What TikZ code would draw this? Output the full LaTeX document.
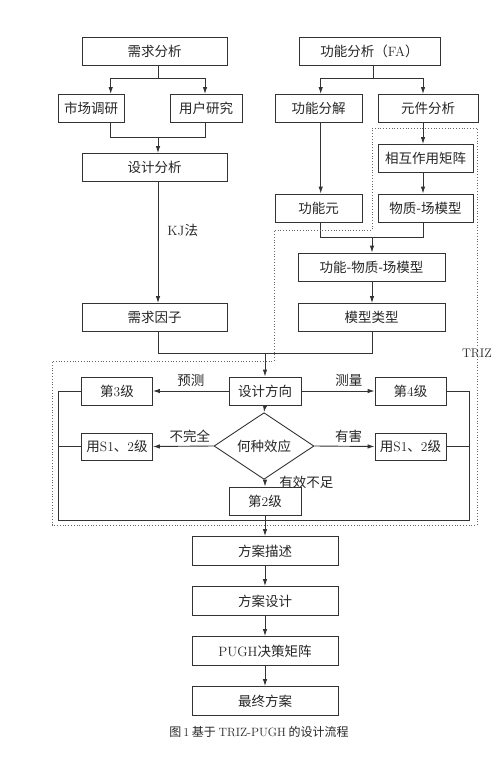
\documentclass[tikz,border=0pt]{standalone}
\usepackage{fontspec}
\newfontfamily\cjk{Noto Sans CJK SC}
\usetikzlibrary{arrows.meta,shapes.geometric}
\newcommand{\lm}[1]{{\rmfamily #1}}
\begin{document}
\begin{tikzpicture}[x=1pt,y=-1pt,
  every node/.style={text=black!85},
  box/.style={draw=black!80,line width=0.9pt,rectangle,inner sep=0pt,minimum height=28pt,font=\cjk\fontsize{13.5}{14}\selectfont},
  dia/.style={draw=black!80,line width=0.9pt,diamond,inner sep=0pt,minimum width=100pt,minimum height=38pt,font=\cjk\fontsize{13.5}{14}\selectfont},
  lab/.style={font=\cjk\fontsize{13.5}{14}\selectfont,inner sep=1pt},
  ln/.style={draw=black!80,line width=0.9pt},
  arr/.style={ln,-{Latex[length=7pt,width=4.5pt]}},
  dots/.style={draw=black!60,line width=0.8pt,dotted}]
\useasboundingbox (0,0) rectangle (500,760);
\fill[white] (0,0) rectangle (500,760);

% upper left
\node[box,minimum width=145pt] (xq) at (154.5,51) {需求分析};
\node[box,minimum width=66pt] (sc) at (91,108.5) {市场调研};
\node[box,minimum width=72pt] (yh) at (206,108.5) {用户研究};
\node[box,minimum width=145pt] (sj) at (154.5,167.5) {设计分析};
\node[box,minimum width=145pt] (xy) at (154.5,317.5) {需求因子};

% upper right
\node[box,minimum width=141pt] (fa) at (369.5,51) {功能分析（\lm{FA}）};
\node[box,minimum width=87pt] (fj) at (318.5,108.5) {功能分解};
\node[box,minimum width=100pt] (yj) at (428,108.5) {元件分析};
\node[box,minimum width=95pt] (jz) at (425.5,158.5) {相互作用矩阵};
\node[box,minimum width=87pt] (gny) at (318.5,208) {功能元};
\node[box,minimum width=95pt] (wz) at (425.5,208) {物质-场模型};
\node[box,minimum width=147pt] (gwz) at (371.5,267) {功能-物质-场模型};
\node[box,minimum width=147pt] (mx) at (371.5,317.5) {模型类型};

% TRIZ part
\node[box,minimum width=72pt] (fx) at (265,391) {设计方向};
\node[box,minimum width=71pt] (l3) at (117,391) {第\lm{3}级};
\node[box,minimum width=71pt] (l4) at (410.5,391) {第\lm{4}级};
\node[dia] (dm) at (264,446) {何种效应};
\node[box,minimum width=71pt,minimum height=27pt] (s1l) at (117,446.5) {用\lm{S1}、\lm{2}级};
\node[box,minimum width=71pt,minimum height=27pt] (s1r) at (410.5,446.5) {用\lm{S1}、\lm{2}级};
\node[box,minimum width=72pt] (l2) at (265,501) {第\lm{2}级};

% bottom chain
\node[box,minimum width=146pt,minimum height=29pt] (fams) at (265,551) {方案描述};
\node[box,minimum width=146pt,minimum height=29pt] (fasj) at (265,601) {方案设计};
\node[box,minimum width=146pt,minimum height=29pt] (pugh) at (265,651) {\lm{PUGH}决策矩阵};
\node[box,minimum width=146pt,minimum height=29pt] (zz) at (265,701) {最终方案};

\node[font=\cjk\fontsize{12}{12}\selectfont] (cap) at (259,732) {图\,\lm{1} 基于 \lm{TRIZ-PUGH} 的设计流程};

% coordinates
\coordinate (b1) at (158,78);
\coordinate (a1) at (110.7,94);
\coordinate (a2) at (205,94);
\coordinate (j1) at (158,137);
\coordinate (b2) at (373,78);
\coordinate (a3) at (320.7,94);
\coordinate (a4) at (423,94);
\coordinate (j2) at (372,237);
\coordinate (j3) at (265,353);
\coordinate (fl) at (58,520);
\coordinate (fr) at (469,520);
\coordinate (fm) at (265,520);

% left branch
\draw[ln] (xq.south -| b1) -- (b1);
\draw[arr] (b1) -| (a1);
\draw[arr] (b1) -| (a2);
\draw[ln] (sc.south -| a1) |- (j1);
\draw[ln] (yh.south -| a2) |- (j1);
\draw[arr] (j1) -- (sj.north -| j1);
\draw[arr] (sj.south -| j1) -- node[lab,right=8pt,pos=0.4] (kj) {\lm{KJ}法} (xy.north -| j1);
\draw[ln] (xy.south -| j1) |- (j3);

% right branch
\draw[ln] (fa.south -| b2) -- (b2);
\draw[arr] (b2) -| (a3);
\draw[arr] (b2) -| (a4);
\draw[arr] (fj.south -| a3) -- (gny.north -| a3);
\draw[arr] (yj.south -| a4) -- (jz.north -| a4);
\draw[arr] (jz.south -| a4) -- (wz.north -| a4);
\draw[ln] (gny.south -| a3) |- (j2);
\draw[ln] (wz.south -| a4) |- (j2);
\draw[arr] (j2) -- (gwz.north -| j2);
\draw[arr] (gwz.south -| j2) -- (mx.north -| j2);
\draw[ln] (mx.south -| j2) |- (j3);
\draw[arr] (j3) -- (fx.north);

% TRIZ
\draw[arr] (fx.west) -- node[lab,above=3pt,pos=0.5] (yc) {预测} (l3.east);
\draw[arr] (fx.east) -- node[lab,above=3pt,pos=0.65] (cl) {测量} (l4.west);
\draw[arr] (dm.west) -- node[lab,above=2pt,pos=0.39] (bwq) {不完全} (s1l.east);
\draw[arr] (dm.east) -- node[lab,above=2pt,pos=0.57] (yh2) {有害} (s1r.west);
\draw[arr] (fx.south) -- (dm.north);
\draw[arr] (dm.south -| l2.north) -- node[lab,right=13pt,pos=0.45] (yx) {有效不足} (l2.north);
\draw[ln] (l3.west) -- (l3.west -| fl) -- (fl) -- (fm);
\draw[ln] (s1l.west) -- (s1l.west -| fl);
\draw[ln] (l4.east) -- (l4.east -| fr) -- (fr) -- (fm);
\draw[ln] (s1r.east) -- (s1r.east -| fr);
\draw[arr] (l2.south) -- (fams.north);
\draw[arr] (fams.south) -- (fasj.north);
\draw[arr] (fasj.south) -- (pugh.north);
\draw[arr] (pugh.south) -- (zz.north);

% dotted TRIZ region
\draw[dots] (372,128) -- (477,128) -- (477,525) -- (52,525) -- (52,361) -- (274,361) -- (274,230) -- (372,230) -- cycle;
\node[fill=white,inner sep=1.5pt,font=\fontsize{12.5}{13}\selectfont] (triz) at (477,353) {TRIZ};
\end{tikzpicture}
\end{document}
